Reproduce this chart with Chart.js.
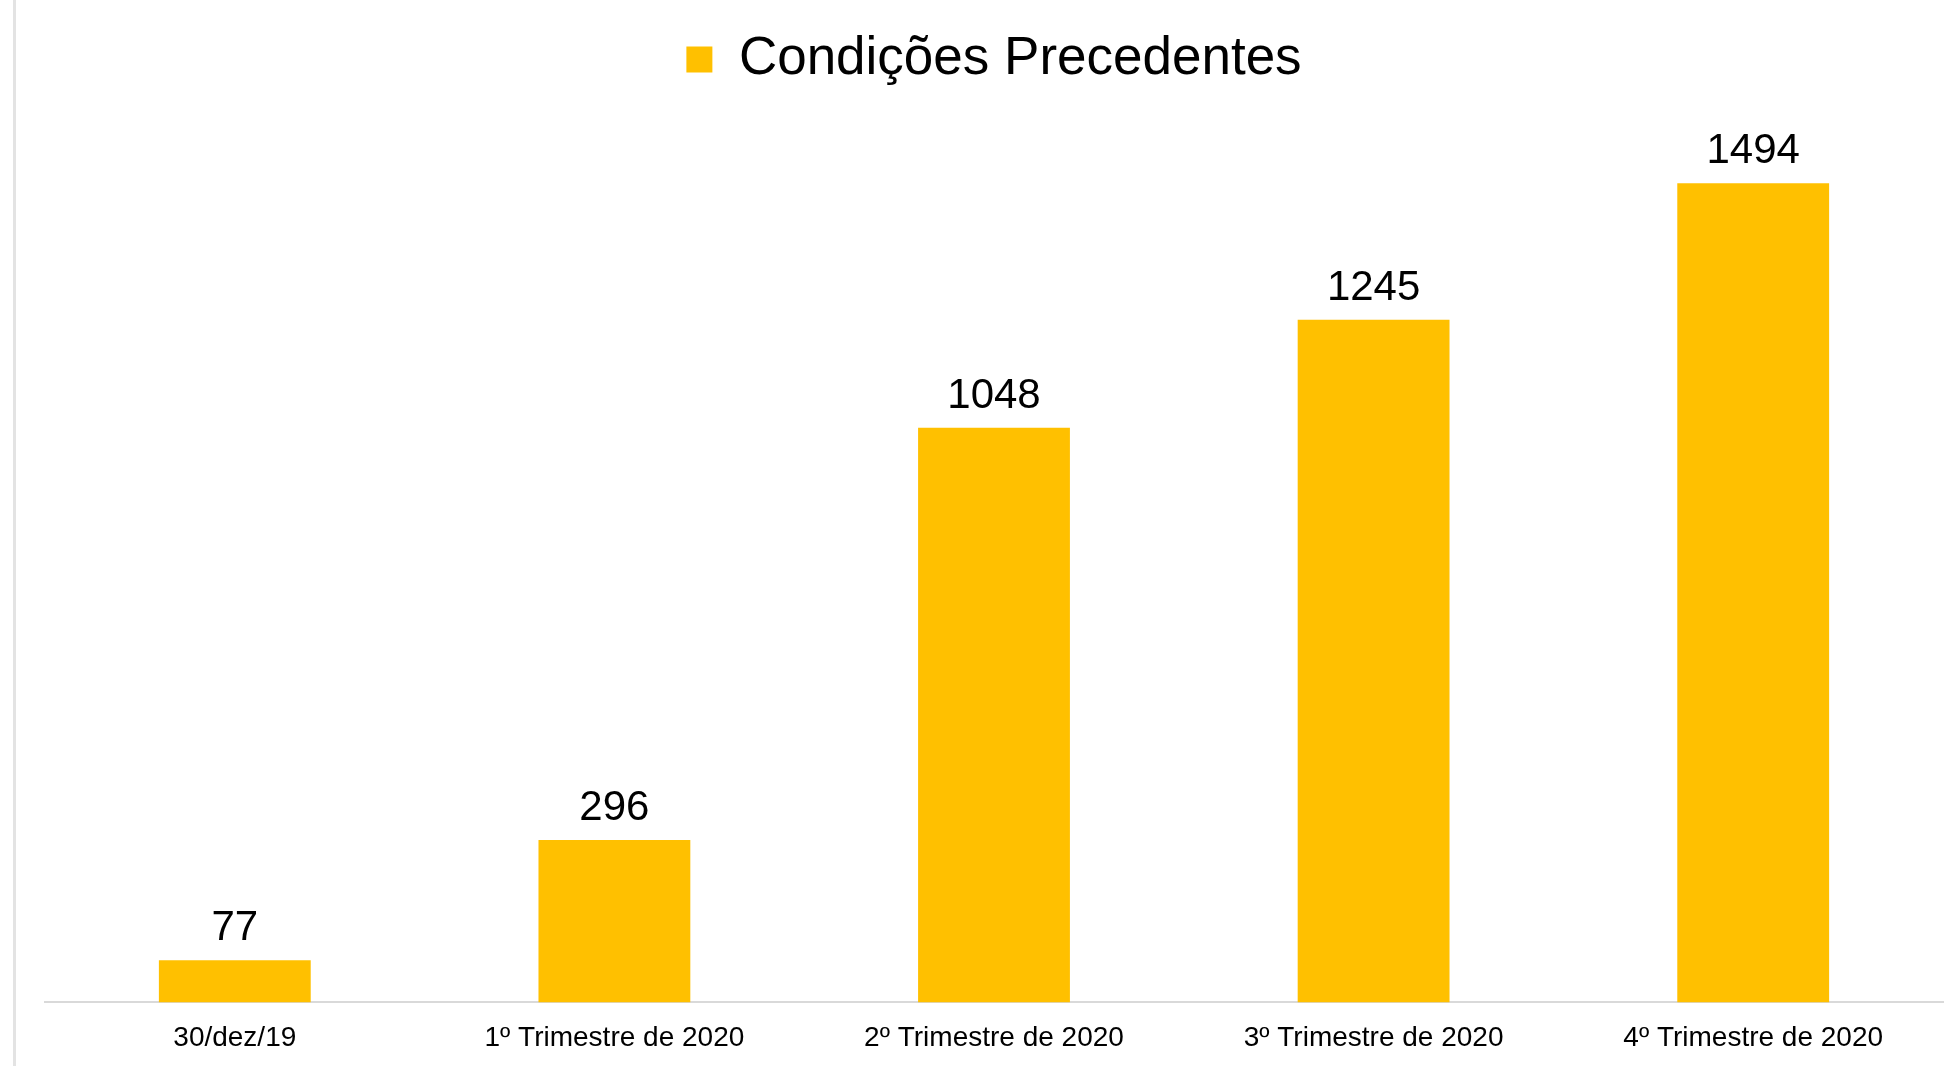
<!DOCTYPE html>
<html>
<head>
<meta charset="utf-8">
<script src="https://cdn.jsdelivr.net/npm/chart.js@4"></script>
<style>
html,body{margin:0;padding:0;background:#fff;}
#wrap{position:relative;width:1954px;height:1066px;}
#edge{position:absolute;left:13px;top:0;width:3px;height:1066px;background:#e3e3e3;}
canvas{position:absolute;left:0;top:0;}
</style>
</head>
<body>
<div id="wrap"><div id="edge"></div><canvas id="c" width="1954" height="1066"></canvas></div>
<script>
const categories = ["30/dez/19","1º Trimestre de 2020","2º Trimestre de 2020","3º Trimestre de 2020","4º Trimestre de 2020"];
const seriesName = "Condições Precedentes";
const values = [77, 296, 1048, 1245, 1494];

const valueLabels = {
  id: 'valueLabels',
  afterDatasetsDraw(chart) {
    const ctx = chart.ctx;
    const meta = chart.getDatasetMeta(0);
    ctx.save();
    ctx.font = '42px "Liberation Sans", Arial, sans-serif';
    ctx.fillStyle = '#000';
    ctx.textAlign = 'center';
    ctx.textBaseline = 'alphabetic';
    meta.data.forEach((bar, i) => {
      ctx.fillText(String(values[i]), bar.x, bar.y - 20);
    });
    ctx.restore();
  }
};

const legendGap = {
  id: 'legendGap',
  beforeInit(chart) {
    const lg = chart.legend;
    const fit = lg.fit;
    lg.fit = function() { fit.call(this); this.height += 29; };
  }
};

new Chart(document.getElementById('c'), {
  type: 'bar',
  data: {
    labels: categories,
    datasets: [{
      label: seriesName,
      data: values,
      backgroundColor: '#FFC000',
      borderWidth: 0,
      barPercentage: 0.4,
      categoryPercentage: 1.0
    }]
  },
  options: {
    responsive: false,
    animation: false,
    layout: { padding: { left: 45, right: 11, top: 13, bottom: -8 } },
    plugins: {
      legend: {
        display: true,
        position: 'top',
        labels: {
          boxWidth: 26,
          boxHeight: 26,
          color: '#000',
          font: { family: '"Liberation Sans", Arial, sans-serif', size: 53 },
          padding: 20
        }
      },
      tooltip: { enabled: false }
    },
    scales: {
      x: {
        grid: { display: false, drawTicks: false },
        border: { display: true, color: '#d9d9d9', width: 2 },
        ticks: {
          color: '#000',
          font: { family: '"Liberation Sans", Arial, sans-serif', size: 28 },
          padding: 19,
          maxRotation: 0
        }
      },
      y: {
        display: false,
        min: 0,
        max: 1600
      }
    }
  },
  plugins: [valueLabels, legendGap]
});
</script>
</body>
</html>
